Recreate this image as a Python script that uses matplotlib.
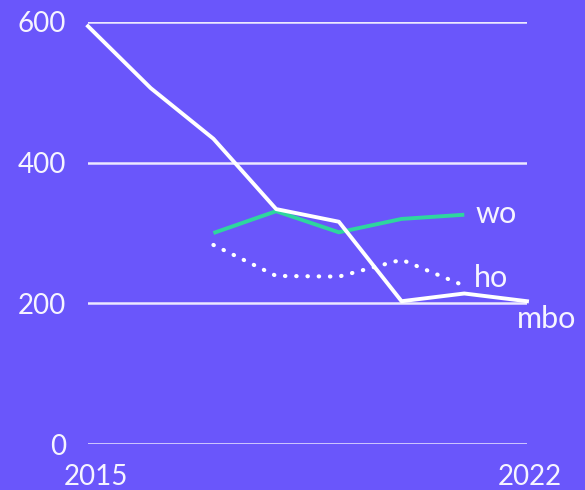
import matplotlib
matplotlib.use("Agg")
import matplotlib.pyplot as plt

years = [2015, 2016, 2017, 2018, 2019, 2020, 2021, 2022]
mbo = [594, 506, 434, 334, 316, 203, 214, 203]
wo_years = [2017, 2018, 2019, 2020, 2021]
wo = [300, 331, 301, 320, 326]
ho_years = [2017, 2018, 2019, 2020, 2021]
ho = [283, 239, 238, 262, 225]
yticks = [0, 200, 400, 600]
xlabels = ["2015", "2022"]

BG = "#6a56fb"
GREEN = "#2ed69e"
GRID = "#ece8ff"
TEXT = "#f6f4ff"

plt.rcParams['font.family'] = ['Lato', 'DejaVu Sans']

fig = plt.figure(figsize=(5.85, 4.9), dpi=100, facecolor=BG)
ax = fig.add_axes([88/585, 46/490, 439/585, 422/490])
ax.set_facecolor(BG)
for s in ax.spines.values():
    s.set_visible(False)
ax.set_xlim(2015, 2022)
ax.set_ylim(0, 600)

for y in yticks:
    ax.axhline(y, color=GRID, lw=1.8, zorder=1)

ax.set_yticks(yticks)
ax.set_yticklabels([str(v) for v in yticks], color=TEXT, fontsize=20)
ax.tick_params(axis='y', length=0, pad=16)
ax.set_xticks([])

ax.annotate(xlabels[0], xy=(years[0], 0), xycoords='data', xytext=(6, -24),
            textcoords='offset points', ha='center', va='center', color=TEXT, fontsize=20)
ax.annotate(xlabels[1], xy=(years[-1], 0), xycoords='data', xytext=(2, -24),
            textcoords='offset points', ha='center', va='center', color=TEXT, fontsize=20)

ax.plot(ho_years, ho, color='white', lw=3, linestyle=(0, (0.1, 2.6)),
        dash_capstyle='round', zorder=2, clip_on=False)
ax.plot(wo_years, wo, color=GREEN, lw=2.8, zorder=3, clip_on=False, solid_capstyle='butt')
ax.plot(years, mbo, color='white', lw=2.8, zorder=4, clip_on=False, solid_joinstyle='round')

ax.annotate("wo", xy=(wo_years[-1], wo[-1]), xytext=(8, -6), textcoords='offset points',
            ha='left', va='baseline', color=TEXT, fontsize=22)
ax.annotate("ho", xy=(ho_years[-1], ho[-1]), xytext=(7, -1), textcoords='offset points',
            ha='left', va='baseline', color=TEXT, fontsize=22)
ax.annotate("mbo", xy=(years[-1], mbo[-1]), xytext=(-7, -19), textcoords='offset points',
            ha='left', va='baseline', color=TEXT, fontsize=22)

fig.savefig("out.png", dpi=100, facecolor=BG)
